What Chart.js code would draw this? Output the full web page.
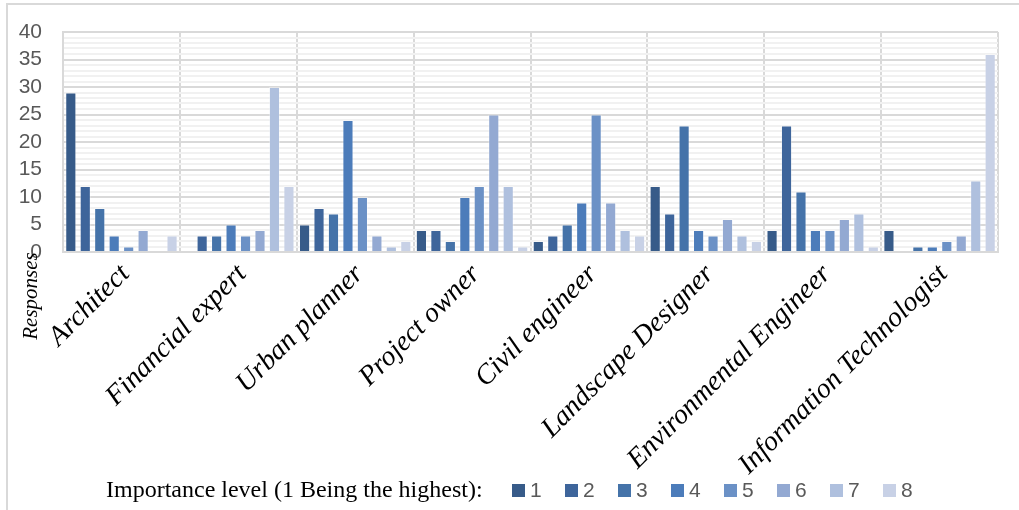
<!DOCTYPE html>
<html>
<head>
<meta charset="utf-8">
<script src="https://cdn.jsdelivr.net/npm/chart.js@4/dist/chart.umd.min.js"></script>
<style>
  html, body { margin: 0; padding: 0; background: #ffffff; }
  #wrap { width: 1019px; height: 510px; }
</style>
</head>
<body>
<div id="wrap"><canvas id="c" width="1019" height="510"></canvas></div>
<script>
const categories = ['Architect', 'Financial expert', 'Urban planner', 'Project owner', 'Civil engineer', 'Landscape Designer', 'Environmental Engineer', 'Information Technologist'];
const seriesLabels = ['1', '2', '3', '4', '5', '6', '7', '8'];
const level1 = [29, 0, 5, 4, 2, 12, 4, 4];
const level2 = [12, 3, 8, 4, 3, 7, 23, 0];
const level3 = [8, 3, 7, 2, 5, 23, 11, 1];
const level4 = [3, 5, 24, 10, 9, 4, 4, 1];
const level5 = [1, 3, 10, 12, 25, 3, 4, 2];
const level6 = [4, 4, 3, 25, 9, 6, 6, 3];
const level7 = [0, 30, 1, 12, 4, 3, 7, 13];
const level8 = [3, 12, 2, 1, 3, 2, 1, 36];
const yTickValues = [0, 5, 10, 15, 20, 25, 30, 35, 40];
const yTitle = 'Responses';
const legendTitle = 'Importance level (1 Being the highest):';

const seriesValues = [level1, level2, level3, level4, level5, level6, level7, level8];
const colors = ['#375b89', '#3e659b', '#4573a9', '#4c7cba', '#6b91c6', '#93a9d2', '#afc0de', '#c8d1e6'];

const datasets = seriesValues.map((vals, i) => ({
  label: seriesLabels[i],
  data: vals,
  backgroundColor: colors[i],
  borderColor: 'rgba(255,255,255,0.35)',
  borderWidth: 1,
  barPercentage: 0.77,
  categoryPercentage: 0.99
}));

const decorPlugin = {
  id: 'decor',
  beforeDraw(chart) {
    const ctx = chart.ctx;
    ctx.save();
    ctx.fillStyle = '#ffffff';
    ctx.fillRect(0, 0, chart.width, chart.height);
    ctx.strokeStyle = '#d9d9d9';
    ctx.lineWidth = 2;
    ctx.beginPath();
    ctx.moveTo(7, 520);
    ctx.lineTo(7, 4);
    ctx.lineTo(1030, 4);
    ctx.stroke();
    ctx.restore();
  },
  afterDraw(chart) {
    const ctx = chart.ctx;
    ctx.save();
    ctx.translate(31, 296);
    ctx.rotate(-Math.PI / 2);
    ctx.font = 'italic 21px "Liberation Serif"';
    ctx.fillStyle = '#000000';
    ctx.textAlign = 'center';
    ctx.textBaseline = 'middle';
    ctx.fillText(yTitle, 0, 0);
    ctx.restore();

    ctx.save();
    ctx.font = '24px "Liberation Serif"';
    ctx.fillStyle = '#000000';
    ctx.textAlign = 'left';
    ctx.textBaseline = 'middle';
    ctx.fillText(legendTitle, 106, 491);
    let x = 512;
    ctx.font = '21px "Liberation Sans"';
    chart.data.datasets.forEach((ds) => {
      ctx.fillStyle = ds.backgroundColor;
      ctx.fillRect(x, 484, 13, 13);
      ctx.fillStyle = '#595959';
      ctx.fillText(ds.label, x + 18, 491);
      x += 53;
    });
    ctx.restore();
  }
};

new Chart(document.getElementById('c'), {
  type: 'bar',
  data: { labels: categories, datasets: datasets },
  options: {
    responsive: false,
    devicePixelRatio: 1,
    animation: false,
    layout: { padding: { left: 0, right: 21, top: 32, bottom: 0 } },
    plugins: {
      legend: { display: false },
      tooltip: { enabled: false },
      title: { display: false }
    },
    scales: {
      x: {
        grid: { color: '#d9d9d9', lineWidth: 2, drawTicks: false, offset: true },
        border: { display: true, color: '#d9d9d9', width: 2 },
        ticks: {
          autoSkip: false,
          minRotation: 45,
          maxRotation: 45,
          padding: 6,
          labelOffset: 4,
          color: '#000000',
          font: { family: '"Liberation Serif"', style: 'italic', size: 28 }
        },
        afterFit(scale) {
          scale.height = 258;
          scale.paddingLeft = 0;
          scale.paddingRight = 0;
        }
      },
      y: {
        min: 0,
        max: 40,
        grid: {
          drawTicks: false,
          color: (c) => (c.tick && c.tick.value % 5 === 0) ? '#d9d9d9' : '#f1f1f1',
          lineWidth: 2
        },
        border: { display: true, color: '#d9d9d9', width: 2 },
        ticks: {
          stepSize: 1,
          maxTicksLimit: 100,
          autoSkip: false,
          padding: 21,
          color: '#595959',
          font: { family: '"Liberation Sans"', size: 21 },
          callback: (v) => yTickValues.includes(v) ? String(v) : ''
        },
        afterFit(scale) {
          scale.width = 63;
          scale.paddingTop = 0;
          scale.paddingBottom = 0;
        }
      }
    }
  },
  plugins: [decorPlugin]
});
</script>
</body>
</html>
